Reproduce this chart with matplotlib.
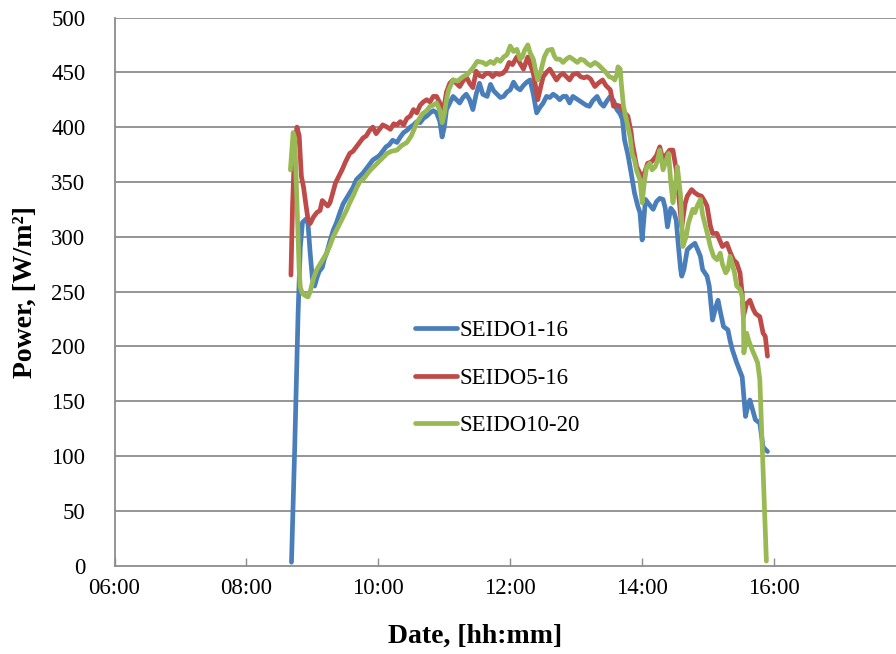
import matplotlib
matplotlib.use("Agg")
import matplotlib.pyplot as plt
from matplotlib.ticker import FixedLocator, FuncFormatter

# ---- data: time in minutes of day, power in W/m2 ----
seido1_t = [521, 524, 527, 529, 531, 534, 536, 538, 540, 542, 544, 546, 549, 551, 553, 556, 559, 562,
            565, 568, 571, 574, 577, 580, 583, 586, 589, 592, 595, 598, 601, 604, 607, 610, 613, 617,
            620, 623, 626, 629, 632, 635, 638, 641, 644, 647, 650, 653, 656, 658, 660, 662, 665, 668,
            671, 674, 677, 680, 683, 686, 689, 692, 695, 699, 702, 705, 708, 711, 714, 717, 720, 723,
            726, 729, 732, 735, 738, 741, 744, 747, 750, 753, 756, 759, 762, 765, 768, 771, 774, 777,
            780, 783, 786, 789, 792, 795, 799, 802, 805, 808, 811, 814, 817, 820, 822, 824, 827, 830,
            833, 836, 838, 840, 843, 846, 850, 853, 856, 859, 861, 863, 866, 869, 871, 873, 875, 876,
            878, 881, 884, 888, 891, 893, 895, 899, 901, 904, 907, 909, 911, 914, 918, 920, 922, 926,
            931, 934, 936, 938, 941, 943, 947, 950, 954]
seido1_p = [3, 110, 230, 290, 313, 316, 312, 285, 262, 255, 262, 268, 272, 280, 285, 296, 306, 313,
            322, 330, 335, 340, 345, 352, 355, 358, 362, 366, 370, 372, 374, 378, 382, 384, 388, 386,
            391, 395, 397, 400, 402, 405, 404, 408, 410, 413, 415, 413, 405, 391, 400, 416, 422, 428,
            425, 422, 427, 430, 425, 416, 430, 440, 430, 428, 439, 433, 430, 427, 428, 432, 434, 441,
            436, 434, 438, 441, 443, 430, 413, 418, 422, 428, 427, 430, 428, 425, 428, 428, 422, 428,
            426, 424, 422, 420, 419, 424, 428, 422, 419, 424, 428, 424, 416, 412, 407, 388, 375, 358,
            340, 328, 322, 297, 334, 330, 325, 332, 335, 334, 326, 309, 326, 322, 315, 291, 270, 264,
            270, 288, 291, 294, 287, 282, 270, 264, 255, 224, 236, 242, 232, 218, 215, 205, 197, 185,
            172, 136, 145, 151, 140, 133, 130, 108, 104]

seido5_t = [520.5, 522, 524, 526, 528, 530, 532, 534, 536, 538, 541, 544, 547, 549, 552, 554, 556, 558,
            561, 564, 567, 570, 574, 577, 580, 583, 586, 589, 592, 595, 598, 601, 604, 608, 611, 614,
            617, 620, 623, 626, 629, 632, 635, 638, 641, 644, 647, 650, 653, 656, 658, 660, 662, 665,
            668, 671, 674, 677, 680, 683, 686, 689, 692, 695, 698, 701, 704, 707, 710, 713, 716, 719,
            722, 726, 729, 732, 736, 739, 741, 743, 745, 748, 750, 753, 756, 759, 762, 765, 768, 771,
            774, 777, 781, 784, 787, 790, 793, 797, 800, 804, 807, 811, 814, 817, 820, 823, 827, 830,
            831, 833, 835, 838, 840, 842, 845, 848, 850, 853, 856, 859, 862, 865, 868, 871, 873, 876,
            879, 881, 885, 888, 891, 894, 897, 899, 902, 904, 908, 910, 913, 917, 920, 923, 926, 929,
            931, 932, 935, 938, 941, 943, 947, 950, 952, 954]
seido5_p = [265, 330, 385, 400, 392, 355, 345, 330, 316, 312, 318, 322, 324, 333, 330, 328, 331, 338,
            349, 355, 361, 368, 376, 378, 382, 386, 390, 392, 397, 400, 394, 398, 402, 400, 398, 403,
            402, 405, 402, 408, 410, 416, 413, 420, 423, 425, 423, 428, 428, 422, 416, 420, 432, 440,
            443, 440, 437, 442, 446, 440, 436, 451, 447, 446, 449, 449, 446, 449, 448, 449, 452, 459,
            457, 464, 458, 453, 464, 455, 449, 437, 425, 438, 446, 450, 453, 448, 443, 447, 449, 446,
            443, 448, 449, 446, 445, 446, 444, 437, 440, 443, 438, 434, 419, 420, 419, 414, 410, 395,
            386, 375, 364, 358, 352, 358, 367, 368, 370, 374, 382, 370, 375, 379, 379, 361, 340, 309,
            330, 337, 343, 340, 338, 337, 332, 328, 310, 303, 303, 298, 291, 294, 286, 279, 276, 267,
            248, 227, 239, 242, 234, 230, 227, 212, 209, 191]

seido10_t = [520, 521, 522.5, 524, 526, 528, 529, 531, 534, 536, 538, 541, 544, 547, 550, 553, 556, 559,
             562, 565, 568, 571, 574, 577, 580, 583, 586, 589, 592, 596, 600, 604, 608, 612, 617, 621,
             626, 630, 635, 640, 644, 647, 650, 653, 656, 658, 660, 662, 664, 668, 672, 677, 681, 686,
             690, 695, 698, 702, 705, 708, 711, 714, 717, 720, 723, 726, 729, 731, 733, 736, 738, 741,
             743, 745, 748, 751, 754, 758, 760, 762, 765, 768, 771, 774, 777, 781, 784, 787, 790, 793,
             797, 800, 804, 807, 810, 813, 815, 817, 818, 820, 821, 823, 826, 829, 831, 833, 835, 838,
             840, 842, 844, 847, 849, 852, 854, 856, 859, 862, 864, 866, 868, 870, 872, 875, 877, 880,
             882, 885, 886, 888, 890, 893, 895, 897, 900, 902, 905, 908, 911, 913, 916, 918, 920, 922,
             924, 926, 929, 931, 932, 932.5, 935, 937, 940, 943, 945, 947, 953]
seido10_p = [361, 375, 395, 390, 330, 270, 254, 248, 246, 245, 250, 262, 270, 275, 280, 285, 292, 300,
             306, 312, 318, 324, 331, 337, 344, 350, 352, 356, 360, 364, 368, 372, 376, 378, 379, 383,
             386, 392, 404, 412, 415, 419, 420, 422, 415, 404, 412, 425, 434, 443, 442, 446, 448, 454,
             460, 459, 457, 460, 458, 462, 460, 464, 466, 474, 469, 471, 462, 464, 470, 475, 468, 462,
             452, 443, 452, 464, 470, 471, 465, 462, 462, 459, 462, 464, 462, 459, 462, 461, 458, 456,
             459, 457, 453, 450, 446, 445, 443, 448, 455, 453, 440, 419, 405, 391, 375, 370, 360, 352,
             331, 350, 363, 367, 361, 364, 370, 379, 361, 370, 376, 350, 331, 345, 364, 337, 291, 300,
             312, 322, 325, 322, 328, 334, 320, 312, 300, 291, 282, 279, 285, 275, 267, 270, 282, 275,
             267, 255, 252, 245, 233, 194, 212, 205, 197, 190, 185, 170, 4]

series_names = ["SEIDO1-16", "SEIDO5-16", "SEIDO10-20"]
series_colors = ["#4A7EBB", "#BE4B48", "#98B954"]
x_ticks_h = [6, 8, 10, 12, 14, 16]
y_ticks = [0, 50, 100, 150, 200, 250, 300, 350, 400, 450, 500]

W, H = 896, 654
fig = plt.figure(figsize=(W / 100, H / 100), dpi=100)
left, right, top, bottom = 114.5, 906.0, 17.5, 565.5
ax = fig.add_axes([left / W, (H - bottom) / H, (right - left) / W, (bottom - top) / H])

serif = "Liberation Serif"
grid_c = "#8C8C8C"

for y in y_ticks[1:]:
    ax.axhline(y, color=grid_c, lw=1.3, zorder=1)

for t, p, name, c in zip([seido1_t, seido5_t, seido10_t], [seido1_p, seido5_p, seido10_p],
                         series_names, series_colors):
    ax.plot([v / 60 for v in t], p, color=c, lw=3.4, label=name, zorder=3,
            solid_joinstyle="round", solid_capstyle="round")

ax.set_xlim(6, 18)
ax.set_ylim(0, 500)
ax.xaxis.set_major_locator(FixedLocator(x_ticks_h))
ax.xaxis.set_major_formatter(FuncFormatter(lambda v, pos: "%02d:00" % int(round(v))))
ax.yaxis.set_major_locator(FixedLocator(y_ticks))

for s in ["top", "right"]:
    ax.spines[s].set_visible(False)
for s in ["left", "bottom"]:
    ax.spines[s].set_color(grid_c)
    ax.spines[s].set_linewidth(1.3)

ax.tick_params(axis="x", direction="in", length=6, width=1.0, color=grid_c, pad=9,
               labelsize=16.5, labelfontfamily=serif)
ax.tick_params(axis="y", length=0, pad=21, labelsize=16.5, labelfontfamily=serif)

fig.text(475 / W, 1 - 636 / H, "Date, [hh:mm]", ha="center", va="center",
         fontfamily=serif, fontweight="bold", fontsize=20)
fig.text(25 / W, 1 - 292 / H, "Power, [W/m²]", ha="center", va="center", rotation=90,
         fontfamily=serif, fontweight="bold", fontsize=20)

leg = ax.legend(loc="center left", bbox_to_anchor=((415 - left) / (right - left), 1 - (378 - top) / (bottom - top)),
                frameon=False, prop={"family": serif, "size": 16.5}, handlelength=1.85,
                handletextpad=0.1, labelspacing=1.15, borderpad=0, borderaxespad=0)

fig.savefig("out.png", dpi=100)
